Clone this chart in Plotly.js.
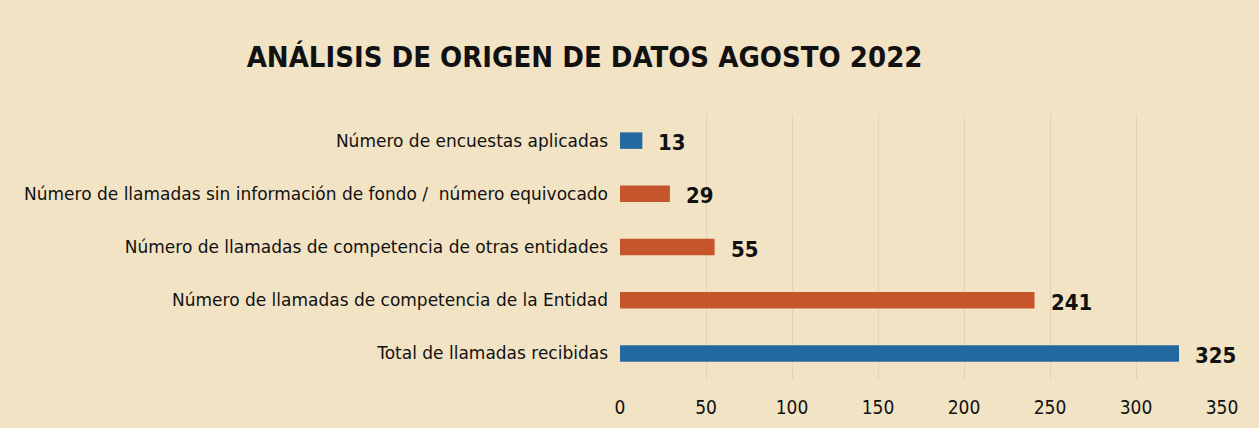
<!DOCTYPE html>
<html><head><meta charset="utf-8">
<script src="https://cdn.plot.ly/plotly-3.0.1.min.js"></script>
<style>html,body{margin:0;padding:0;background:#f2e3c5;}</style>
</head><body>
<div id="chart" style="width:1259px;height:428px;"></div>
<script>
const categories = [
  "Total de llamadas recibidas",
  "Número de llamadas de competencia de la Entidad",
  "Número de llamadas de competencia de otras entidades",
  "Número de llamadas sin información de fondo /  número equivocado",
  "Número de encuestas aplicadas"
];
const values = [325, 241, 55, 29, 13];
const barColors = ["#2468a0", "#c5552a", "#c5552a", "#c5552a", "#2468a0"];
const tickVals = [0, 50, 100, 150, 200, 250, 300, 350];

const fontC = "DejaVu Sans Condensed, DejaVu Sans, sans-serif";
const fontN = "DejaVu Sans, sans-serif";
const trace = {
  type: "bar", orientation: "h",
  x: values, y: categories,
  marker: {color: barColors, line: {width: 0}},
  width: 0.31,
  hoverinfo: "none"
};
const annotations = values.map((v, i) => ({
  x: v, y: categories[i], xref: "x", yref: "y",
  text: "<b>" + v + "</b>", showarrow: false,
  xanchor: "left", xshift: 14, yshift: -2,
  font: {family: fontC, size: 22, color: "#111"}
}));
const layout = {
  width: 1259, height: 428,
  paper_bgcolor: "#f2e3c5", plot_bgcolor: "#f2e3c5",
  margin: {l: 620, r: 37, t: 114, b: 48},
  title: {text: "<b>ANÁLISIS DE ORIGEN DE DATOS AGOSTO 2022</b>",
          x: 0.4643, xanchor: "center", y: 0.867, yanchor: "middle",
          font: {family: fontC, size: 29, color: "#111"}},
  xaxis: {range: [0, 350], tickvals: tickVals, ticktext: tickVals.map(String),
          showgrid: true, gridcolor: "rgba(190,170,140,0.28)", gridwidth: 1,
          zeroline: false, showline: false, ticks: "",
          ticklabelstandoff: 14,
          tickfont: {family: fontC, size: 19, color: "#111"}, fixedrange: true},
  yaxis: {categoryorder: "array", categoryarray: categories,
          showgrid: false, zeroline: false, showline: false, ticks: "",
          ticklabelstandoff: 11,
          tickfont: {family: fontN, size: 17, color: "#111"}, fixedrange: true},
  showlegend: false,
  annotations: annotations
};
Plotly.newPlot("chart", [trace], layout, {displayModeBar: false, staticPlot: true});
</script>
</body></html>
